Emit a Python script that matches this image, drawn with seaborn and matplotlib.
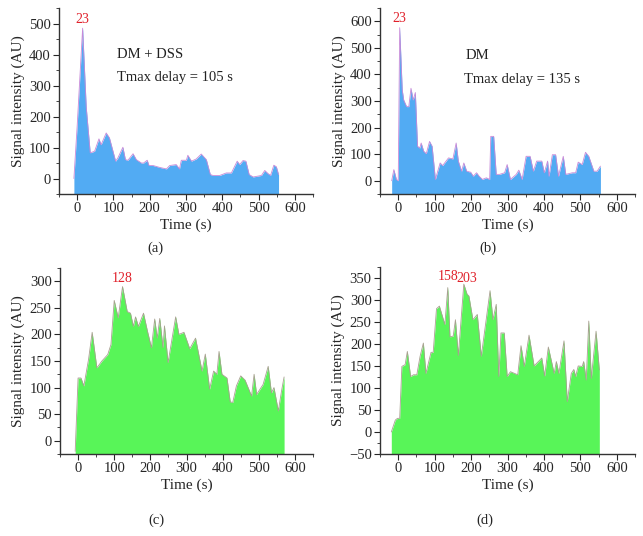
import matplotlib
matplotlib.use("Agg")
import matplotlib.pyplot as plt
import seaborn as sns
from matplotlib.ticker import MultipleLocator

sns.set_theme(style="ticks")
plt.rcParams['font.family'] = ['Liberation Serif', 'DejaVu Serif']

# (a) DM + DSS
a_t = [-9, 0, 15, 25, 36, 48, 60, 66, 80, 89, 106, 112, 126, 133, 140, 154, 163, 177, 183, 193,
       198, 209, 227, 246, 255, 273, 282, 287, 301, 305, 315, 328, 342, 356, 367, 374, 393, 411,
       425, 441, 448, 457, 465, 474, 485, 499, 508, 517, 526, 533, 542, 549, 555]
a_y = [0, 170, 485, 230, 83, 88, 128, 109, 147, 131, 56, 66, 101, 61, 59, 80, 61, 50, 50, 59,
       42, 42, 36, 31, 42, 45, 31, 59, 59, 75, 56, 63, 79, 61, 13, 10, 10, 18,
       18, 56, 45, 58, 56, 13, 5, 8, 10, 26, 16, 10, 43, 38, 13]

# (b) DM
b_t = [-18, -12, -5, 0, 4, 11, 15, 23, 29, 35, 41, 47, 53, 59, 63, 70, 77, 86, 93, 102, 115,
       122, 138, 150, 159, 165, 174, 180, 188, 199, 206, 215, 222, 231, 242, 251, 254, 262, 269,
       278, 292, 299, 308, 324, 331, 340, 351, 362, 371, 380, 394, 401, 410, 414, 423, 432, 440,
       453, 460, 478, 487, 494, 505, 514, 523, 537, 546, 555]
b_y = [0, 42, 5, 0, 576, 342, 304, 279, 279, 348, 304, 332, 130, 123, 142, 111, 102, 148, 130, 5, 67,
       57, 86, 82, 142, 74, 36, 67, 36, 32, 17, 30, 17, 5, 11, 5, 167, 167, 24,
       24, 30, 61, 5, 24, 40, 5, 92, 92, 36, 74, 74, 30, 74, 17, 98, 98, 17,
       92, 24, 30, 30, 70, 61, 107, 92, 36, 36, 55]

# (c)
c_t = [-8, 0, 8, 16, 29, 39, 52, 66, 82, 91, 100, 111, 123, 136, 145, 153, 159, 167, 181, 192,
       203, 212, 219, 226, 235, 239, 249, 270, 279, 293, 309, 325, 343, 352, 364, 375, 384, 390,
       398, 412, 421, 428, 438, 450, 462, 480, 487, 494, 512, 526, 535, 542, 554, 563, 570]
c_y = [-20, 118, 118, 103, 153, 204, 137, 150, 162, 181, 264, 231, 290, 243, 240, 215, 233, 215, 240, 206,
       175, 229, 193, 230, 175, 216, 147, 233, 200, 204, 173, 193, 131, 163, 97, 131, 125, 168,
       125, 118, 73, 72, 103, 122, 114, 84, 125, 87, 106, 140, 90, 100, 56, 94, 120]

# (d)
d_t = [-19, -8, -2, 4, 10, 19, 25, 34, 42, 51, 60, 69, 76, 90, 96, 105, 113, 128, 136, 142,
       151, 157, 165, 180, 189, 194, 205, 217, 228, 252, 260, 269, 276, 282, 291, 299, 308, 328,
       337, 346, 359, 373, 394, 402, 412, 428, 434, 441, 455, 464, 475, 482, 487, 494, 505, 509,
       516, 523, 530, 543, 552]
d_y = [0, 27, 31, 31, 149, 153, 183, 126, 130, 130, 172, 202, 133, 181, 181, 280, 286, 244, 328, 216,
       218, 255, 174, 336, 313, 309, 255, 267, 172, 321, 255, 290, 126, 225, 225, 126, 137, 130,
       196, 149, 220, 150, 168, 127, 193, 133, 160, 133, 207, 69, 133, 142, 126, 150, 149, 160,
       118, 252, 122, 229, 141]

blue = '#52abf3'
green = '#58f558'
red = '#e0202a'

fig = plt.figure(figsize=(6.43, 5.36), dpi=100)

panels = [
    dict(t=a_t, y=a_y, rect=[0.0918, 0.638, 0.395, 0.347], ylim=(-50, 550), major=100, minor=50,
         fill=blue, edge='#c88ad8', peaks=[("23", 15, 493)],
         notes=[("DM + DSS", 110, 400), ("Tmax delay = 105 s", 110, 325)], lab=("(a)", 0.241, 0.537)),
    dict(t=b_t, y=b_y, rect=[0.591, 0.638, 0.3966, 0.347], ylim=(-50, 650), major=100, minor=50,
         fill=blue, edge='#c88ad8', peaks=[("23", 4, 585)],
         notes=[("DM", 185, 470), ("Tmax delay = 135 s", 180, 380)], lab=("(b)", 0.759, 0.537)),
    dict(t=c_t, y=c_y, rect=[0.0933, 0.153, 0.3935, 0.347], ylim=(-25, 325), major=50, minor=25,
         fill=green, edge='#a8a090', peaks=[("128", 123, 293)], notes=[], lab=("(c)", 0.244, 0.030)),
    dict(t=d_t, y=d_y, rect=[0.591, 0.153, 0.3966, 0.349], ylim=(-50, 375), major=50, minor=25,
         fill=green, edge='#a8a090', peaks=[("158", 136, 338), ("203", 189, 333)], notes=[],
         lab=("(d)", 0.754, 0.030)),
]

for p in panels:
    ax = fig.add_axes(p['rect'])
    ax.fill_between(p['t'], p['y'], p['ylim'][0], color=p['fill'], linewidth=0)
    sns.lineplot(x=p['t'], y=p['y'], ax=ax, color=p['edge'], linewidth=0.6, sort=False)
    ax.set_xlim(-50, 650)
    ax.set_ylim(*p['ylim'])
    ax.xaxis.set_major_locator(MultipleLocator(100))
    ax.xaxis.set_minor_locator(MultipleLocator(50))
    ax.yaxis.set_major_locator(MultipleLocator(p['major']))
    ax.yaxis.set_minor_locator(MultipleLocator(p['minor']))
    ax.set_xticks(range(0, 601, 100))
    ax.tick_params(which='major', length=4, width=0.8, labelsize=10.5, direction='out', pad=2)
    ax.tick_params(which='minor', length=2, width=0.6, direction='out')
    sns.despine(ax=ax)
    for s in ['left', 'bottom']:
        ax.spines[s].set_linewidth(1.0)
        ax.spines[s].set_color('#333333')
    ax.set_xlabel("Time (s)", fontsize=11, labelpad=2)
    ax.set_ylabel("Signal intensity (AU)", fontsize=11, labelpad=3)
    for txt, x, y in p['peaks']:
        ax.text(x, y, txt, color=red, fontsize=10, ha='center', va='bottom')
    for txt, x, y in p['notes']:
        ax.text(x, y, txt, color='#222222', fontsize=10.5, ha='left', va='center')
    fig.text(p['lab'][1], p['lab'][2], p['lab'][0], fontsize=10.5, ha='center', va='center')

fig.savefig("out.png", dpi=100)
